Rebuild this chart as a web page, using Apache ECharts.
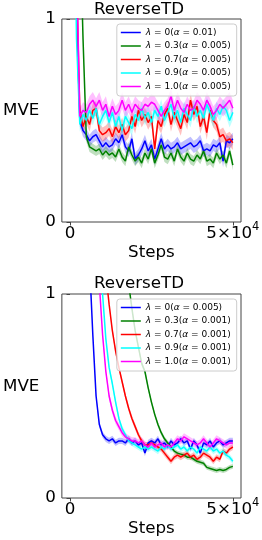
<!DOCTYPE html>
<html><head><meta charset="utf-8">
<script src="https://cdn.jsdelivr.net/npm/echarts@6/dist/echarts.min.js"></script>
<style>html,body{margin:0;padding:0;background:#fff}#c{width:262px;height:540px}</style>
</head><body><div id="c"></div>
<script>
const steps = [0,1000,2000,3000,4000,5000,6000,7000,8000,9000,10000,11000,12000,13000,14000,15000,16000,17000,18000,19000,20000,21000,22000,23000,24000,25000,26000,27000,28000,29000,30000,31000,32000,33000,34000,35000,36000,37000,38000,39000,40000,41000,42000,43000,44000,45000,46000,47000,48000,49000,50000];

const colors = ['#0000ff', '#008000', '#ff0000', '#00ffff', '#ff00ff'];
const title = 'ReverseTD';
const yName = 'MVE';
const xName = 'Steps';
const xTicks = [0, 50000];
const yTicks = [0, 1];

// top panel
const namesTop = ['λ = 0(α = 0.01)', 'λ = 0.3(α = 0.005)', 'λ = 0.7(α = 0.005)', 'λ = 0.9(α = 0.005)', 'λ = 1.0(α = 0.005)'];
const blueTop = [3.0,2.0,1.05,0.5,0.45,0.43,0.40,0.42,0.43,0.40,0.37,0.39,0.37,0.38,0.41,0.39,0.43,0.37,0.35,0.41,0.31,0.33,0.36,0.40,0.35,0.38,0.31,0.36,0.41,0.36,0.38,0.36,0.37,0.39,0.36,0.37,0.38,0.39,0.37,0.38,0.40,0.35,0.36,0.35,0.38,0.37,0.39,0.30,0.40,0.39,0.41];
const greenTop = [3.5,2.8,2.0,1.5,0.9,0.42,0.37,0.36,0.35,0.36,0.33,0.35,0.33,0.34,0.32,0.36,0.32,0.30,0.37,0.33,0.30,0.32,0.29,0.34,0.31,0.36,0.29,0.33,0.38,0.32,0.31,0.34,0.30,0.36,0.32,0.30,0.34,0.31,0.30,0.33,0.31,0.35,0.30,0.31,0.29,0.34,0.31,0.33,0.29,0.35,0.28];
const redTop = [3.2,2.2,1.2,0.55,0.47,0.52,0.48,0.55,0.56,0.45,0.43,0.44,0.46,0.42,0.47,0.44,0.48,0.43,0.45,0.52,0.47,0.55,0.50,0.53,0.49,0.52,0.36,0.50,0.47,0.53,0.56,0.48,0.54,0.50,0.46,0.53,0.49,0.60,0.53,0.57,0.47,0.52,0.44,0.55,0.50,0.48,0.42,0.43,0.40,0.41,0.39];
const cyanTop = [3.0,1.9,0.9,0.48,0.53,0.50,0.55,0.51,0.56,0.48,0.52,0.55,0.49,0.54,0.47,0.52,0.45,0.52,0.49,0.46,0.53,0.50,0.56,0.51,0.54,0.49,0.55,0.52,0.57,0.50,0.54,0.58,0.51,0.55,0.49,0.56,0.53,0.50,0.57,0.52,0.55,0.51,0.58,0.54,0.50,0.56,0.53,0.57,0.55,0.50,0.54];
const magentaTop = [3.3,2.3,1.3,0.52,0.55,0.54,0.58,0.60,0.57,0.60,0.55,0.58,0.52,0.57,0.53,0.55,0.60,0.55,0.58,0.54,0.58,0.56,0.55,0.58,0.57,0.59,0.58,0.55,0.52,0.55,0.57,0.62,0.55,0.60,0.56,0.54,0.58,0.55,0.56,0.60,0.58,0.55,0.60,0.57,0.53,0.55,0.58,0.56,0.58,0.60,0.56];
const errTop = [0.03, 0.025, 0.035, 0.035, 0.04];

// bottom panel
const namesBot = ['λ = 0(α = 0.005)', 'λ = 0.3(α = 0.001)', 'λ = 0.7(α = 0.001)', 'λ = 0.9(α = 0.001)', 'λ = 1.0(α = 0.001)'];
const blueBot = [4.0,3.5,3.0,2.5,2.0,1.6,1.15,0.8,0.5,0.36,0.31,0.29,0.28,0.29,0.27,0.28,0.28,0.27,0.29,0.27,0.28,0.26,0.27,0.22,0.27,0.28,0.27,0.29,0.26,0.27,0.25,0.28,0.26,0.27,0.29,0.27,0.28,0.24,0.28,0.26,0.22,0.27,0.26,0.28,0.25,0.27,0.28,0.26,0.27,0.28,0.28];
const greenBot = [8,7.5,7,6.5,6,5.5,5,4.5,4,3.6,3.2,2.8,2.4,2.1,1.8,1.6,1.4,1.2,1.05,0.93,0.82,0.74,0.66,0.62,0.54,0.47,0.41,0.36,0.32,0.29,0.27,0.25,0.23,0.22,0.215,0.21,0.20,0.20,0.19,0.18,0.175,0.17,0.15,0.145,0.14,0.135,0.14,0.135,0.14,0.15,0.155];
const redBot = [6,5.5,5,4.5,4,3.5,3,2.6,2.2,1.8,1.4,1.1,0.95,0.82,0.72,0.64,0.57,0.50,0.44,0.39,0.35,0.31,0.28,0.26,0.26,0.27,0.26,0.25,0.24,0.22,0.20,0.18,0.20,0.21,0.20,0.21,0.22,0.20,0.21,0.19,0.20,0.22,0.21,0.20,0.18,0.20,0.19,0.23,0.22,0.24,0.25];
const cyanBot = [5.2,4.8,4.3,3.8,3.3,2.8,2.3,1.9,1.5,1.2,1.0,0.78,0.64,0.56,0.47,0.39,0.34,0.31,0.28,0.27,0.26,0.25,0.24,0.25,0.24,0.25,0.24,0.23,0.25,0.24,0.26,0.24,0.25,0.26,0.24,0.25,0.23,0.25,0.24,0.22,0.25,0.24,0.23,0.25,0.23,0.24,0.22,0.23,0.21,0.20,0.18];
const magentaBot = [5.0,4.5,4.0,3.5,3.0,2.5,2.0,1.6,1.3,1.05,0.8,0.62,0.50,0.43,0.38,0.35,0.32,0.30,0.29,0.28,0.28,0.27,0.28,0.26,0.25,0.27,0.25,0.26,0.27,0.25,0.26,0.25,0.27,0.29,0.28,0.30,0.29,0.28,0.27,0.26,0.27,0.29,0.27,0.25,0.27,0.29,0.28,0.27,0.26,0.27,0.27];
const errBot = [0.015, 0.012, 0.015, 0.015, 0.018];

const FONT = 'DejaVu Sans';
const FS = 16.7;
const panels = [
  {top: 19, height: 203, names: namesTop, values: [blueTop, greenTop, redTop, cyanTop, magentaTop], errs: errTop, titleTop: 1.5, legendTop: 24},
  {top: 294, height: 204, names: namesBot, values: [blueBot, greenBot, redBot, cyanBot, magentaBot], errs: errBot, titleTop: 275, legendTop: 299}
];

function bandRenderer(vals, err, col) {
  return function (params, api) {
    if (params.dataIndexInside !== 0) return null;
    const upper = [], lower = [];
    for (let i = 0; i < steps.length; i++) {
      upper.push(api.coord([steps[i], vals[i] + err]));
      lower.push(api.coord([steps[i], vals[i] - err]));
    }
    const cs = params.coordSys;
    return {
      type: 'polygon',
      shape: {points: upper.concat(lower.reverse())},
      style: {fill: col, opacity: 0.25},
      clipPath: {type: 'rect', shape: {x: cs.x, y: cs.y, width: cs.width, height: cs.height}},
      silent: true
    };
  };
}

const grid = [], xAxis = [], yAxis = [], series = [], legend = [], titles = [];
panels.forEach((p, g) => {
  grid.push({left: 37, width: 204, top: p.top, height: p.height, show: true, borderColor: '#444', borderWidth: 1, backgroundColor: 'transparent', containLabel: false});
  titles.push({text: title, left: 139, top: p.titleTop, textAlign: 'center', padding: 0,
    textStyle: {fontFamily: FONT, fontSize: FS, fontWeight: 'normal', color: '#000'}});
  xAxis.push({gridIndex: g, type: 'value', min: -2500, max: 52500,
    name: xName, nameLocation: 'middle', nameGap: 22,
    nameTextStyle: {fontFamily: FONT, fontSize: FS, color: '#000'},
    axisLine: {show: false}, splitLine: {show: false},
    axisTick: {show: true, inside: false, length: 3.5, customValues: xTicks, lineStyle: {color: '#444', width: 1}},
    axisLabel: {show: true, customValues: xTicks, margin: -1,
      formatter: v => v === 0 ? '{a|0}' : '{a|5×10}{s|4}',
      rich: {a: {fontFamily: FONT, fontSize: FS, lineHeight: 21, verticalAlign: 'bottom', color: '#000'},
             s: {fontFamily: FONT, fontSize: 11.5, lineHeight: 12, verticalAlign: 'top', color: '#000'}}}
  });
  yAxis.push({gridIndex: g, type: 'value', min: 0, max: 1, interval: 1,
    name: yName, nameLocation: 'middle', nameRotate: 0, nameGap: 5,
    nameTextStyle: {fontFamily: FONT, fontSize: FS, color: '#000', align: 'right', verticalAlign: 'bottom', lineHeight: 19},
    axisLine: {show: false}, splitLine: {show: false},
    axisTick: {show: true, inside: false, length: 3.5, lineStyle: {color: '#444', width: 1}},
    axisLabel: {show: true, margin: 6, fontFamily: FONT, fontSize: FS, color: '#000',
      formatter: v => (yTicks.indexOf(v) >= 0 ? String(v) : '')}
  });
  p.values.forEach((vals, k) => {
    const col = colors[k];
    const err = p.errs[k];
    series.push({type: 'custom', name: 'band' + g + k, xAxisIndex: g, yAxisIndex: g, clip: true, silent: true,
      data: steps.map((x, i) => [x, vals[i]]), renderItem: bandRenderer(vals, err, col)});
    series.push({type: 'line', name: p.names[k], xAxisIndex: g, yAxisIndex: g,
      data: steps.map((x, i) => [x, vals[i]]), symbol: 'none', silent: true,
      lineStyle: {color: col, width: 1.5}, itemStyle: {color: col}, emphasis: {disabled: true}});
  });
  legend.push({data: p.names, orient: 'vertical', align: 'left', right: 25.3, top: p.legendTop,
    padding: [3, 6, 4, 4], itemGap: 2.5, itemWidth: 20, itemHeight: 1.5, itemTextGap: 3.5, icon: 'rect',
    backgroundColor: 'rgba(255,255,255,0.8)', borderColor: '#cccccc', borderWidth: 1, borderRadius: 3,
    selectedMode: false,
    formatter: n => n.replace('λ', '{i|λ}').replace('α', '{i|α}'),
    textStyle: {fontFamily: FONT, fontSize: 9, lineHeight: 11, color: '#000',
      rich: {i: {fontFamily: FONT, fontSize: 9, lineHeight: 11, fontStyle: 'italic', color: '#000'}}}
  });
});

const chart = echarts.init(document.getElementById('c'), null, {renderer: 'canvas'});
chart.setOption({animation: false, backgroundColor: '#fff', title: titles, grid, xAxis, yAxis, series, legend});
</script></body></html>
